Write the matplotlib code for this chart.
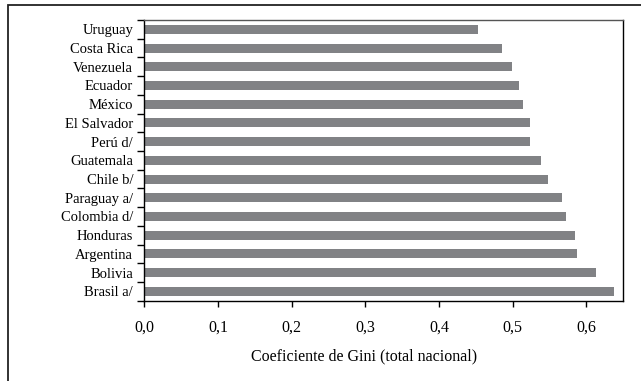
import matplotlib
matplotlib.use("Agg")
import matplotlib.pyplot as plt
from matplotlib.patches import Rectangle
from matplotlib.ticker import FuncFormatter, FixedLocator
import numpy as np

# Gini coefficient by country, top to bottom as shown
paises = ["Uruguay", "Costa Rica", "Venezuela", "Ecuador", "México",
          "El Salvador", "Perú d/", "Guatemala", "Chile b/", "Paraguay a/",
          "Colombia d/", "Honduras", "Argentina", "Bolivia", "Brasil a/"]
gini = [0.453, 0.485, 0.499, 0.509, 0.514,
        0.523, 0.523, 0.539, 0.548, 0.567,
        0.572, 0.585, 0.588, 0.613, 0.638]
x_ticks = [0.0, 0.1, 0.2, 0.3, 0.4, 0.5, 0.6]

plt.rcParams["font.family"] = ["Liberation Serif", "DejaVu Serif"]

fig = plt.figure(figsize=(6.41, 3.81), dpi=100)
ax = fig.add_axes([0.2251, 0.2108, 0.972 - 0.2251, 0.9475 - 0.2108])

# outer frame (runs off the bottom and right of the picture)
fig.patches.append(Rectangle((0.0125, -0.1), 1.2, 0.987 + 0.1,
                             transform=fig.transFigure, fill=False,
                             edgecolor="#222222", linewidth=1.3))

y = np.arange(len(paises))
ax.barh(y, gini, height=0.48, color="#818285")
ax.set_ylim(len(paises) - 0.5, -0.5)
ax.set_xlim(0, 0.65)

ax.set_yticks(y)
ax.set_yticklabels(paises, fontsize=10.5)
ax.yaxis.set_minor_locator(FixedLocator(np.arange(-0.5, len(paises), 1.0)))
ax.tick_params(axis="y", which="major", length=0, pad=8)
ax.tick_params(axis="y", which="minor", length=5, width=1, direction="out")

ax.set_xticks(x_ticks)
ax.xaxis.set_major_formatter(FuncFormatter(lambda v, p: f"{v:.1f}".replace(".", ",")))
ax.tick_params(axis="x", length=4, width=1, direction="out", labelsize=11.5, pad=10)
ax.set_xlabel("Coeficiente de Gini (total nacional)", fontsize=11.5)
ax.xaxis.set_label_coords(0.459, -0.17)

for s in ax.spines.values():
    s.set_color("black")
    s.set_linewidth(1.0)
ax.spines["top"].set_color("#555555")

fig.savefig("out.png", dpi=100)
